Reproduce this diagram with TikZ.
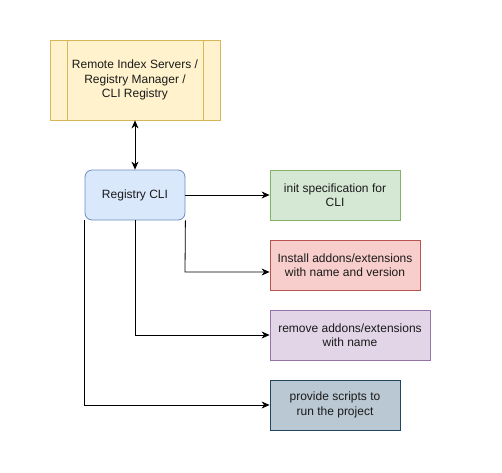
\documentclass[tikz,border=0pt]{standalone}
\usepackage{fontspec}
\setmainfont{Liberation Sans}
\usetikzlibrary{arrows.meta}
\definecolor{yfill}{HTML}{FFF2CC}\definecolor{ydraw}{HTML}{D6B656}
\definecolor{bfill}{HTML}{DAE8FC}\definecolor{bdraw}{HTML}{6C8EBF}
\definecolor{gfill}{HTML}{D5E8D4}\definecolor{gdraw}{HTML}{82B366}
\definecolor{rfill}{HTML}{F8CECC}\definecolor{rdraw}{HTML}{B85450}
\definecolor{pfill}{HTML}{E1D5E7}\definecolor{pdraw}{HTML}{9673A6}
\definecolor{sfill}{HTML}{BAC8D3}\definecolor{sdraw}{HTML}{23445D}
\definecolor{txt}{HTML}{1A1A1A}
\begin{document}
\begin{tikzpicture}[x=1pt,y=-1pt,
  box/.style={draw, line width=0.8pt, minimum height=50pt, inner sep=0pt, align=center, text=txt,
    font=\fontsize{12}{14.5}\selectfont},
  conn/.style={line width=0.8pt, -{Stealth[length=8pt,width=7pt,inset=2.5pt]}},
  bconn/.style={line width=0.8pt, {Stealth[length=8pt,width=7pt,inset=2.5pt]}-{Stealth[length=8pt,width=7pt,inset=2.5pt]}}]
\useasboundingbox (0,0) rectangle (502,472);
\node[box, fill=yfill, draw=ydraw, minimum width=170pt, minimum height=80pt] (rem) at (135,80)
  {Remote Index Servers /\\Registry Manager /\\CLI Registry};
\draw[ydraw, line width=0.8pt] (67,40) -- (67,120) (203,40) -- (203,120);
\node[box, fill=bfill, draw=bdraw, minimum width=100pt, rounded corners=7pt] (cli) at (135,195) {Registry CLI};
\node[box, fill=gfill, draw=gdraw, minimum width=130pt] (init) at (335,195) {init specification for\\CLI};
\node[box, fill=rfill, draw=rdraw, minimum width=150pt] (inst) at (345,265) {Install addons/extensions\\with name and version};
\node[box, fill=pfill, draw=pdraw, minimum width=160pt] (remv) at (350,335) {remove addons/extensions\\with name};
\node[box, fill=sfill, draw=sdraw, minimum width=130pt] (prov) at (335,405) {provide scripts to\\run the project};
\draw[bconn] (rem.south) -- (cli.north);
\draw[conn] (cli.east) -- (init.west);
\draw[conn] (cli.south east) -- (185,272) -- (inst.west |- 0,272);
\draw[conn] (cli.south) |- (remv.west);
\draw[conn] (cli.south west) |- (prov.west);
\end{tikzpicture}
\end{document}
